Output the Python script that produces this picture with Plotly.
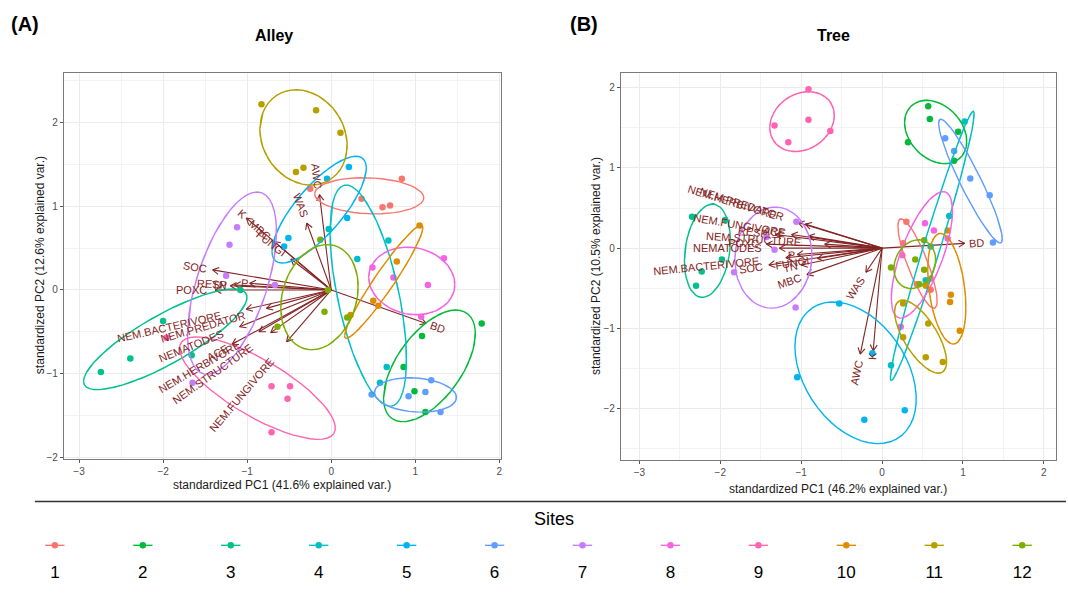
import math
import numpy as np
import plotly.graph_objects as go

# ---------------- data ----------------
SITES = [str(i) for i in range(1, 13)]
SITE_COLORS = ["#F8766D", "#00BA38", "#00C08B", "#00BFC4", "#00B4F0", "#619CFF",
               "#C77CFF", "#F564E3", "#FF64B0", "#DE8C00", "#B79F00", "#7CAE00"]

# Panel A (Alley) sample scores
alley_site = [1]*5 + [2]*5 + [3]*5 + [4]*5 + [5]*5 + [6]*5 + [7]*5 + [8]*5 + [9]*5 + [10]*5 + [11]*5 + [12]*5
alley_pc1 = [-0.25, 0.36, 0.61, 0.70, 0.84,
             1.79, 1.08, 0.86, 0.99, 1.12,
             -1.08, -2.00, -2.39, -2.74, -1.66,
             -0.03, 0.68, 0.31, 0.66, 0.58,
             0.21, -0.05, 0.19, -0.51, -0.56,
             0.48, 0.92, 1.12, 1.19, 1.30,
             -1.12, -1.21, -1.25, -0.67, -1.65,
             1.34, 0.49, 0.74, 1.15, 1.07,
             -1.96, -0.71, -0.49, -0.52, -0.71,
             1.05, 0.78, 0.50, 0.56, 0.23,
             -0.83, -0.18, 0.11, -0.42, -0.33,
             -0.13, -0.04, -0.08, 0.19, -0.64]
alley_pc2 = [1.21, 1.09, 0.99, 1.01, 1.33,
             -0.40, -0.55, -0.92, -1.21, -1.46,
             0.00, -0.37, -0.82, -0.98, -0.78,
             0.73, 0.59, 0.37, -0.92, -1.11,
             1.47, 1.33, 0.86, 0.62, 0.52,
             -1.25, -1.27, -1.22, -1.08, -1.46,
             0.75, 0.54, 0.17, 0.06, -1.11,
             0.38, 0.27, 0.15, 0.06, -0.32,
             -0.57, -1.15, -1.15, -1.30, -1.70,
             0.77, 0.34, -0.13, -0.19, -0.30,
             2.22, 2.15, 1.88, 1.41, 1.46,
             0.60, 0.00, -0.26, -0.33, -0.44]

# Panel A loadings
alley_vars = ["AWC", "WAS", "K", "MBC", "FUNGI", "SOC", "P", "TN", "RESP", "POXC",
              "NEM.BACTERIVORE", "NEM.PREDATOR", "NEMATODES", "ACE", "NEM.HERBIVORE",
              "NEM.STRUCTURE", "NEM.FUNGIVORE", "BD"]
alley_load1 = [-0.14, -0.29, -1.01, -0.68, -0.48, -1.41, -0.97, -1.20, -1.15, -1.38,
               -1.01, -0.77, -1.09, -1.18, -0.86, -0.72, -0.53, 1.13]
alley_load2 = [1.14, 0.80, 0.86, 0.58, 0.37, 0.24, 0.08, 0.05, 0.06, 0.00,
               -0.23, -0.22, -0.44, -0.65, -0.50, -0.51, -0.62, -0.40]

# Panel B (Tree) sample scores
tree_site = [1]*5 + [2]*5 + [3]*5 + [4]*5 + [5]*5 + [6]*5 + [7]*5 + [8]*5 + [9]*5 + [10]*5 + [11]*5 + [12]*5
tree_pc1 = [0.30, 0.26, 0.60, 0.60, 0.43,
            0.57, 0.59, 0.32, 0.94, 0.89,
            -2.35, -1.94, -1.98, -2.23, -2.30,
            1.02, 0.83, 0.54, 0.11, 0.60,
            -1.05, -0.53, -0.12, -0.22, 0.28,
            0.78, 0.89, 1.09, 1.33, 1.37,
            -1.06, -1.43, -1.33, -1.83, -1.07,
            0.53, 0.64, 0.81, 0.25, 0.23,
            -0.91, -1.33, -0.91, -1.16, -0.64,
            0.81, 0.85, 0.84, 0.96, 0.54,
            0.26, 0.57, 0.26, 0.54, 0.75,
            0.52, 0.41, 0.11, 0.52, 0.46]
tree_pc2 = [0.33, 0.06, -0.38, -0.52, -0.45,
            1.77, 1.61, 1.32, 1.45, 1.09,
            0.39, 0.35, -0.14, -0.29, -0.47,
            1.58, 0.40, -0.40, -1.46, 0.02,
            -1.61, -0.69, -1.31, -2.14, -2.02,
            1.37, 1.21, 0.87, 0.66, 0.07,
            0.33, 0.14, -0.02, -0.30, -0.74,
            0.31, 0.22, 0.12, -0.09, -0.98,
            1.98, 1.53, 1.60, 1.32, 1.46,
            0.22, -0.58, -0.67, -1.03, -0.47,
            -0.69, -0.94, -1.11, -1.36, -1.42,
            0.10, -0.14, -0.24, -0.27, -0.45]

tree_vars = ["NEM.HERBIVORE", "NEM.PREDATOR", "NEM.FUNGIVORE", "NEM.STRUCTURE", "RESP",
             "POXC", "NEMATODES", "NEM.BACTERIVORE", "SOC", "P", "FUNGI", "TN", "MBC",
             "ACE", "WAS", "AWC", "K", "BD"]
tree_load1 = [-1.04, -0.95, -0.91, -0.71, -1.32, -1.43, -1.27, -1.19, -1.40, -1.05,
              -0.80, -1.00, -0.93, -1.12, -0.20, -0.27, -0.11, 1.02]
tree_load2 = [0.32, 0.30, 0.15, 0.05, 0.17, 0.05, 0.00, -0.12, -0.21, -0.08,
              -0.13, -0.21, -0.33, 0.17, -0.30, -1.32, -1.28, 0.06]

# ---------------- layout geometry ----------------
W, H = 1068, 595
A_XR, A_YR = [-3.18, 2.02], [-2.02, 2.60]
B_XR, B_YR = [-3.23, 2.15], [-2.64, 2.19]
A_PX = [64, 502]; A_PY = [73, 462]
B_PX = [622, 1058]; B_PY = [73, 463]

def dom_x(px):
    return [px[0] / W, px[1] / W]

def dom_y(py):
    return [(H - py[1]) / H, (H - py[0]) / H]

ARROW_COL = "#832424"
FONT = "Liberation Sans, Arial, sans-serif"

# Arial widths (per 1000 em) for label width estimation
CW = dict(A=667, B=667, C=722, D=722, E=667, F=611, G=778, H=722, I=278, K=667, M=833,
          N=722, O=778, P=667, R=722, S=667, T=611, U=722, V=667, W=944, X=667)
CW["."] = 278

def text_w(s, size):
    return sum(CW.get(c, 600) for c in s) * size / 1000.0

def ellipse(xs, ys, prob=0.68):
    theta = np.concatenate([np.linspace(-np.pi, np.pi, 50), np.linspace(np.pi, -np.pi, 50)])
    circle = np.column_stack([np.cos(theta), np.sin(theta)])
    pts = np.column_stack([xs, ys])
    sigma = np.cov(pts.T)
    mu = pts.mean(axis=0)
    ed = math.sqrt(-2 * math.log(1 - prob))
    L = np.linalg.cholesky(sigma)
    e = circle @ L.T * ed + mu
    return e[:, 0], e[:, 1]

fig = go.Figure()
annotations = []

def add_panel(xa, ya, sites, pc1, pc2, vars_, l1, l2, xr, yr, px, py):
    sx = (px[1] - px[0]) / (xr[1] - xr[0])
    sy = (py[1] - py[0]) / (yr[1] - yr[0])
    # arrows
    X, Y = [], []
    head, ang = 7.0, math.radians(30)
    for x, y in zip(l1, l2):
        X += [0, x, None]; Y += [0, y, None]
        dx, dy = x * sx, y * sy
        L = math.hypot(dx, dy)
        vx, vy = -dx / L, -dy / L
        for s in (1, -1):
            a = ang * s
            rx = vx * math.cos(a) - vy * math.sin(a)
            ry = vx * math.sin(a) + vy * math.cos(a)
            X += [x, x + head * rx / sx, None]
            Y += [y, y + head * ry / sy, None]
    fig.add_trace(go.Scatter(x=X, y=Y, mode="lines", xaxis=xa, yaxis=ya,
                             line=dict(color=ARROW_COL, width=1.1), hoverinfo="skip",
                             showlegend=False))
    sites_arr = np.array(sites)
    p1 = np.array(pc1); p2 = np.array(pc2)
    # points
    for i, s in enumerate(SITES):
        m = sites_arr == (i + 1)
        fig.add_trace(go.Scatter(x=p1[m], y=p2[m], mode="markers", xaxis=xa, yaxis=ya,
                                 marker=dict(color=SITE_COLORS[i], size=6.5),
                                 showlegend=False, name=s))
    # ellipses
    for i, s in enumerate(SITES):
        m = sites_arr == (i + 1)
        ex, ey = ellipse(p1[m], p2[m])
        fig.add_trace(go.Scatter(x=ex, y=ey, mode="lines", xaxis=xa, yaxis=ya,
                                 line=dict(color=SITE_COLORS[i], width=1.4),
                                 showlegend=False, hoverinfo="skip"))
    # variable names
    size = 11
    for name, x, y in zip(vars_, l1, l2):
        th = math.degrees(math.atan(y / x))
        w = text_w(name, size)
        sgn = 1 if x > 0 else -1
        d = 0.75 * w * sgn
        annotations.append(dict(x=x, y=y, xref=xa, yref=ya, text=name, showarrow=False,
                                textangle=-th, xanchor="center", yanchor="middle",
                                xshift=d * math.cos(math.radians(th)),
                                yshift=d * math.sin(math.radians(th)),
                                font=dict(family=FONT, size=size, color=ARROW_COL)))

add_panel("x", "y", alley_site, alley_pc1, alley_pc2, alley_vars, alley_load1, alley_load2,
          A_XR, A_YR, A_PX, A_PY)
add_panel("x2", "y2", tree_site, tree_pc1, tree_pc2, tree_vars, tree_load1, tree_load2,
          B_XR, B_YR, B_PX, B_PY)

# ---------------- legend row ----------------
LEG_X0 = 55; LEG_DX = 88.1
leg_range = [1 - LEG_X0 / LEG_DX, 1 + (W - LEG_X0) / LEG_DX]
for i, s in enumerate(SITES):
    k = i + 1
    fig.add_trace(go.Scatter(x=[k - 0.11, k + 0.11], y=[0.644, 0.644], mode="lines",
                             xaxis="x3", yaxis="y3", line=dict(color=SITE_COLORS[i], width=1.4),
                             showlegend=False, hoverinfo="skip"))
    fig.add_trace(go.Scatter(x=[k], y=[0.644], mode="markers", xaxis="x3", yaxis="y3",
                             marker=dict(color=SITE_COLORS[i], size=6.5),
                             showlegend=False, hoverinfo="skip"))
fig.add_trace(go.Scatter(x=list(range(1, 13)), y=[0.24]*12, mode="text", text=SITES,
                         xaxis="x3", yaxis="y3", textfont=dict(family=FONT, size=17, color="black"),
                         showlegend=False, hoverinfo="skip"))

axis_common = dict(showgrid=True, gridcolor="#EBEBEB", gridwidth=1, zeroline=False,
                   showline=True, mirror=True, linecolor="#7a7a7a", linewidth=1,
                   ticks="outside", ticklen=3, tickcolor="#555555",
                   tickfont=dict(family=FONT, size=10, color="#4D4D4D"),
                   minor=dict(showgrid=True, gridcolor="#F3F3F3", gridwidth=0.6, dtick=0.5),
                   dtick=1, fixedrange=True)

annotations += [
    dict(x=25 / W, y=1 - 24 / H, xref="paper", yref="paper", text="<b>(A)</b>", showarrow=False,
         font=dict(family=FONT, size=20, color="black"), xanchor="center", yanchor="middle"),
    dict(x=275 / W, y=1 - 36 / H, xref="paper", yref="paper", text="<b>Alley</b>", showarrow=False,
         font=dict(family=FONT, size=16, color="black"), xanchor="center", yanchor="middle"),
    dict(x=585 / W, y=1 - 24 / H, xref="paper", yref="paper", text="<b>(B)</b>", showarrow=False,
         font=dict(family=FONT, size=20, color="black"), xanchor="center", yanchor="middle"),
    dict(x=835 / W, y=1 - 36 / H, xref="paper", yref="paper", text="<b>Tree</b>", showarrow=False,
         font=dict(family=FONT, size=16, color="black"), xanchor="center", yanchor="middle"),
    dict(x=283 / W, y=1 - 488 / H, xref="paper", yref="paper",
         text="standardized PC1 (41.6% explained var.)", showarrow=False,
         font=dict(family=FONT, size=12, color="#1a1a1a"), xanchor="center", yanchor="middle"),
    dict(x=40 / W, y=1 - 267 / H, xref="paper", yref="paper", textangle=-90,
         text="standardized PC2 (12.6% explained var.)", showarrow=False,
         font=dict(family=FONT, size=12, color="#1a1a1a"), xanchor="center", yanchor="middle"),
    dict(x=840 / W, y=1 - 492 / H, xref="paper", yref="paper",
         text="standardized PC1 (46.2% explained var.)", showarrow=False,
         font=dict(family=FONT, size=12, color="#1a1a1a"), xanchor="center", yanchor="middle"),
    dict(x=597 / W, y=1 - 268 / H, xref="paper", yref="paper", textangle=-90,
         text="standardized PC2 (10.5% explained var.)", showarrow=False,
         font=dict(family=FONT, size=12, color="#1a1a1a"), xanchor="center", yanchor="middle"),
    dict(x=555 / W, y=1 - 523 / H, xref="paper", yref="paper", text="Sites", showarrow=False,
         font=dict(family=FONT, size=18, color="black"), xanchor="center", yanchor="middle"),
]

fig.update_layout(
    width=W, height=H, autosize=False,
    margin=dict(l=0, r=0, t=0, b=0),
    paper_bgcolor="white", plot_bgcolor="white",
    showlegend=False,
    xaxis=dict(domain=dom_x(A_PX), range=A_XR, anchor="y", **axis_common),
    yaxis=dict(domain=dom_y(A_PY), range=A_YR, anchor="x", **axis_common),
    xaxis2=dict(domain=dom_x(B_PX), range=B_XR, anchor="y2", **axis_common),
    yaxis2=dict(domain=dom_y(B_PY), range=B_YR, anchor="x2", **axis_common),
    xaxis3=dict(domain=[0, 1], range=leg_range, anchor="y3", visible=False, fixedrange=True),
    yaxis3=dict(domain=[0, 0.12], range=[0, 1], anchor="x3", visible=False, fixedrange=True),
    annotations=annotations,
    shapes=[dict(type="line", xref="paper", yref="paper", x0=35 / W, x1=1,
                 y0=1 - 505 / H, y1=1 - 505 / H, line=dict(color="#333333", width=1.5))],
)

fig.write_html("out.html")
